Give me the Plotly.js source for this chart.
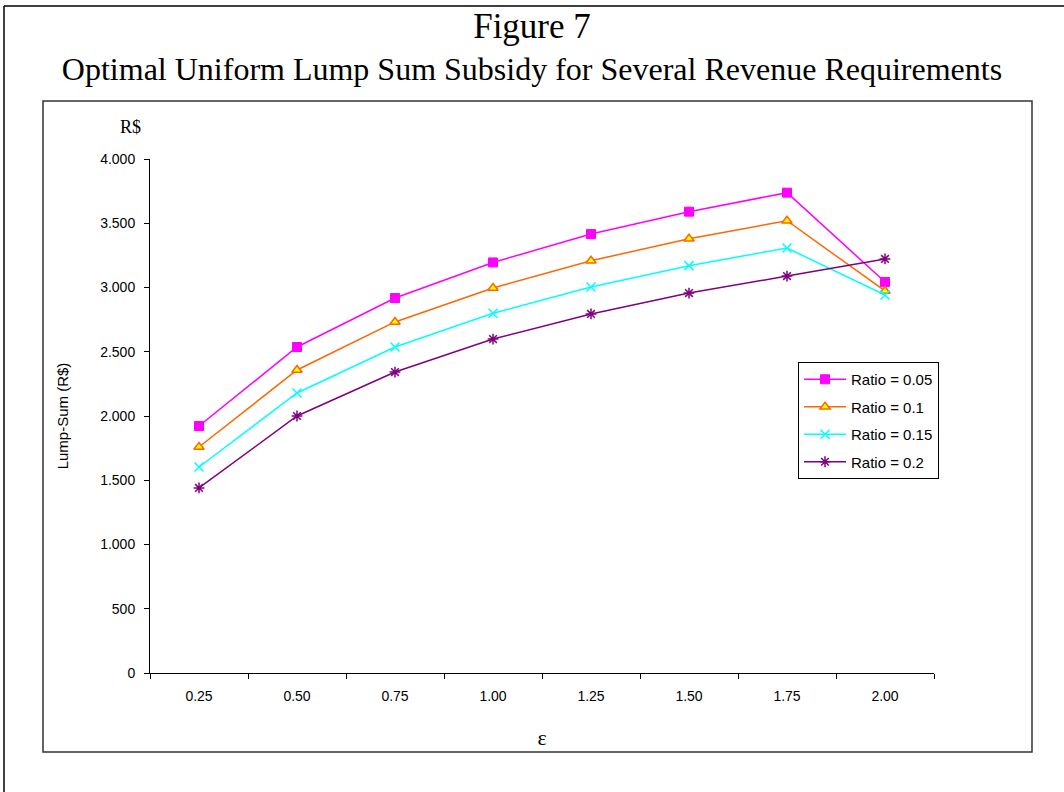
<!DOCTYPE html>
<html>
<head>
<meta charset="utf-8">
<script src="https://cdn.plot.ly/plotly-3.0.1.min.js"></script>
<style>html,body{margin:0;padding:0;background:#fff;}#chart{width:1064px;height:792px;}</style>
</head>
<body>
<div id="chart"></div>
<script>
const epsilon = ["0.25", "0.50", "0.75", "1.00", "1.25", "1.50", "1.75", "2.00"];
const seriesNames = ["Ratio = 0.05", "Ratio = 0.1", "Ratio = 0.15", "Ratio = 0.2"];
const ratio005 = [1922, 2537, 2918, 3195, 3416, 3590, 3738, 3043];
const ratio010 = [1759, 2358, 2732, 2996, 3208, 3380, 3520, 2973];
const ratio015 = [1603, 2179, 2537, 2800, 3004, 3170, 3307, 2942];
const ratio020 = [1440, 2000, 2342, 2599, 2794, 2957, 3089, 3222];
const yTicks = [0, 500, 1000, 1500, 2000, 2500, 3000, 3500, 4000];

const sans = "Liberation Sans, Arial, sans-serif";
const serif = "Liberation Serif, Times New Roman, serif";

const styles = [
  {line: {color: "#FF00FF", width: 1.5}, marker: {symbol: "square", size: 9, color: "#FF00FF", line: {color: "#FF00FF", width: 1}}},
  {line: {color: "#FF6600", width: 1.5}, marker: {symbol: "triangle-up", size: 9, color: "#FFFF00", line: {color: "#FF6600", width: 1.5}}},
  {line: {color: "#00FFFF", width: 1.5}, marker: {symbol: "x-thin-open", size: 9, color: "#00FFFF", line: {color: "#00FFFF", width: 1.5}}},
  {line: {color: "#800080", width: 1.5}, marker: {symbol: "asterisk-open", size: 9, color: "#800080", line: {color: "#800080", width: 1.5}}}
];
const values = [ratio005, ratio010, ratio015, ratio020];

const traces = values.map((v, i) => ({
  type: "scatter",
  mode: "lines+markers",
  x: epsilon,
  y: v,
  name: seriesNames[i],
  legendgroup: "g" + i,
  line: styles[i].line,
  marker: styles[i].marker
}));

const L = 150, R = 934, T = 159, B = 673;
const px = x => (x - L) / (R - L);
const py = y => (B - y) / (B - T);

const layout = {
  width: 1064,
  height: 792,
  margin: {l: L, r: 1064 - R, t: T, b: 792 - B},
  paper_bgcolor: "#ffffff",
  plot_bgcolor: "#ffffff",
  separators: ",.",
  showlegend: true,
  title: {
    text: "<span style='font-size:35px'>Figure 7</span><br>Optimal Uniform Lump Sum Subsidy for Several Revenue Requirements",
    font: {family: serif, size: 32, color: "#000"},
    x: 0.5, xanchor: "center",
    y: 1 - 38 / 792, yanchor: "middle",
    yref: "container"
  },
  xaxis: {
    type: "category",
    range: [-0.5, 7.5],
    tickson: "boundaries",
    ticks: "outside",
    ticklen: 5,
    tickcolor: "#000",
    ticklabelstandoff: 10,
    showline: true,
    linecolor: "#000",
    linewidth: 1,
    showgrid: false,
    zeroline: false,
    tickfont: {family: sans, size: 14, color: "#000"},
    title: {text: "ε", font: {family: serif, size: 22, color: "#000"}, standoff: 26}
  },
  yaxis: {
    range: [0, 4000],
    tickvals: yTicks,
    tickformat: ",d",
    ticks: "outside",
    ticklen: 5,
    tickcolor: "#000",
    ticklabelstandoff: 6,
    showline: true,
    linecolor: "#000",
    linewidth: 1,
    showgrid: false,
    zeroline: false,
    tickfont: {family: sans, size: 14, color: "#000"},
    title: {text: "Lump-Sum (R$)", font: {family: sans, size: 15, color: "#000"}, standoff: 27}
  },
  legend: {
    x: px(798), y: py(362),
    xanchor: "left", yanchor: "top",
    bgcolor: "#ffffff",
    bordercolor: "#000",
    borderwidth: 1,
    font: {family: sans, size: 15, color: "#000"},
    traceorder: "grouped",
    tracegroupgap: 5,
    itemwidth: 42
  },
  annotations: [
    {text: "R$", xref: "paper", yref: "paper", x: px(130), y: py(127), xanchor: "center", yanchor: "middle",
     showarrow: false, font: {family: serif, size: 18, color: "#000"}}
  ],
  shapes: [
    {type: "rect", xref: "paper", yref: "paper", x0: px(43), x1: px(1032), y0: py(752), y1: py(101),
     line: {color: "#333", width: 1.5}, layer: "below"},
    {type: "line", xref: "paper", yref: "paper", x0: px(4), x1: px(1064), y0: py(6), y1: py(6),
     line: {color: "#000", width: 1.5}},
    {type: "line", xref: "paper", yref: "paper", x0: px(4), x1: px(4), y0: py(6), y1: py(792),
     line: {color: "#000", width: 1.5}}
  ]
};

Plotly.newPlot("chart", traces, layout, {displayModeBar: false, staticPlot: true});
</script>
</body>
</html>
